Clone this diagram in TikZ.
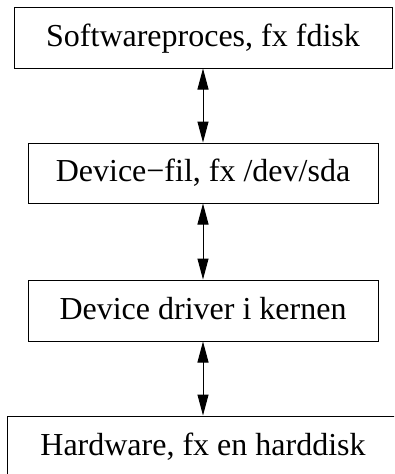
\documentclass[tikz,border=0pt]{standalone}
\usepackage{fontspec}
\setmainfont{Liberation Serif}
\usetikzlibrary{arrows.meta,positioning}
\begin{document}
\begin{tikzpicture}[
    x=1pt, y=-1pt,
    layer/.style={draw, line width=1pt, minimum width=350pt, minimum height=60pt, inner sep=0pt, font=\fontsize{32}{38}\selectfont, text height=22pt, text depth=5pt},
    link/.style={{Triangle[length=21pt,width=11pt]}-{Triangle[length=21pt,width=11pt]}, line width=1pt}
]
    \useasboundingbox (0,0) rectangle (394,474);
    \clip (0,0) rectangle (394,474);

    % Layers, from the user process down to the hardware
    \node[layer, minimum width=378pt, minimum height=61pt] (proc) at (203,37.5) {Softwareproces, fx fdisk};
    \node[layer] (devfile) at (203,173) {Device−fil, fx /dev/sda};
    \node[layer, minimum height=61pt] (driver) at (203,310.5) {Device driver i kernen};
    \node[layer, minimum width=392pt, minimum height=61pt] (hw) at (203,446.5) {Hardware, fx en harddisk};

    % Two-way links between neighbouring layers
    \draw[link] (proc) -- (devfile);
    \draw[link] (devfile) -- (driver);
    \draw[link] (driver) -- (hw);
\end{tikzpicture}
\end{document}
